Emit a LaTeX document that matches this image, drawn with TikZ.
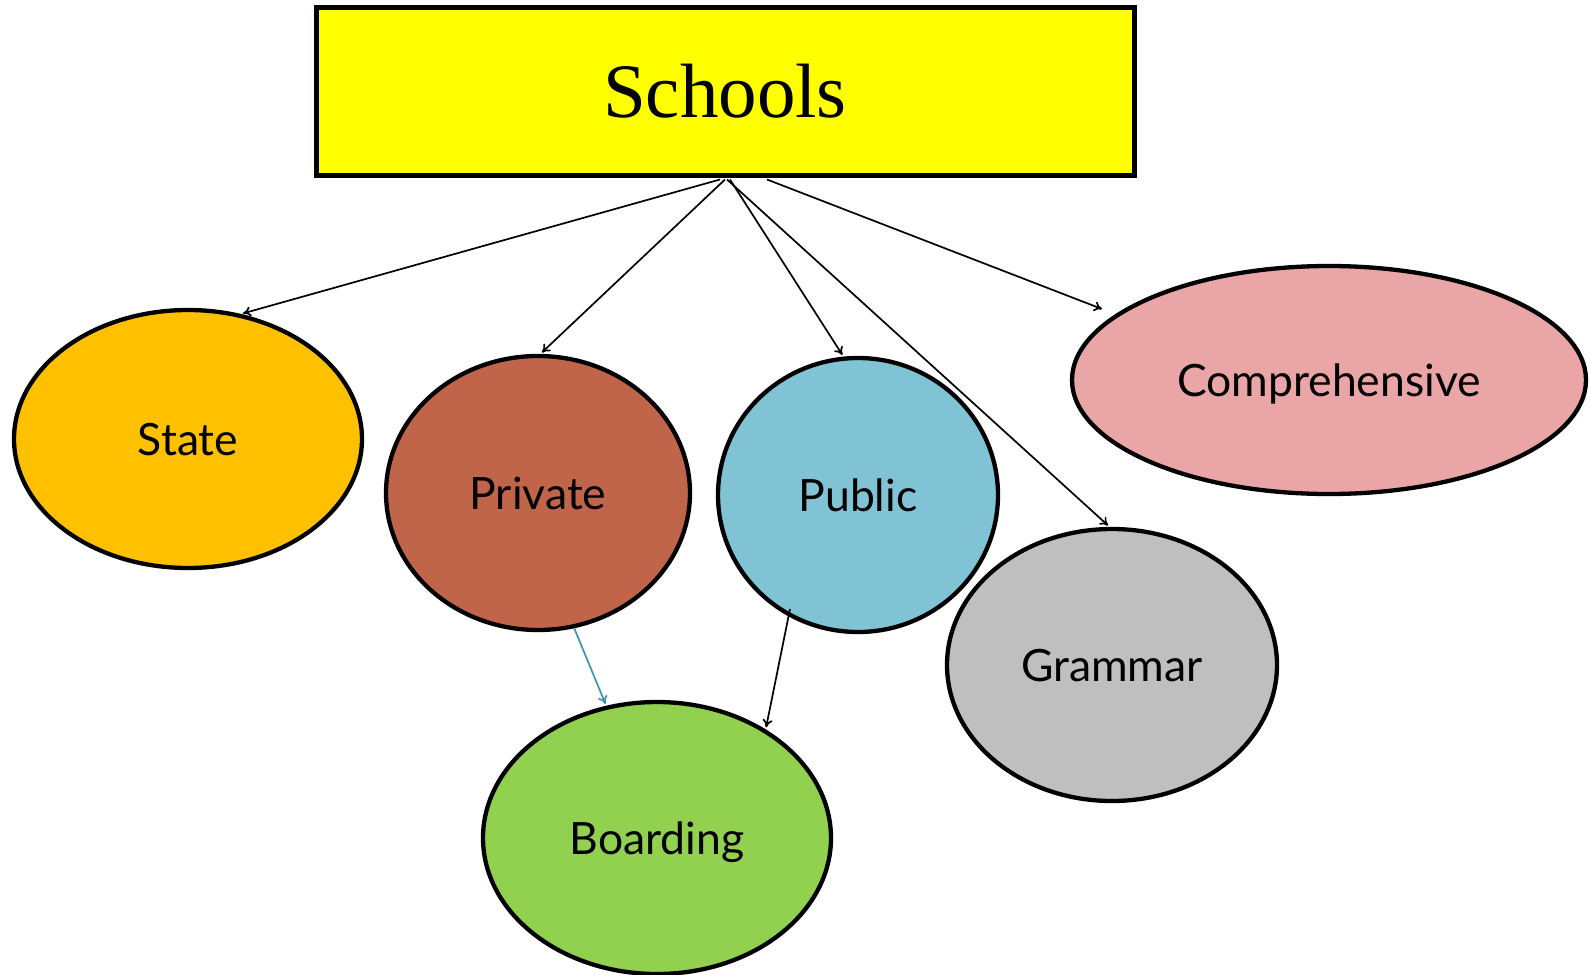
\documentclass[tikz,border=0pt]{standalone}
\usepackage{fontspec}
\setmainfont{Liberation Serif}
\newfontfamily\lblfont{Lato}
\usetikzlibrary{shapes.geometric,arrows.meta}
\definecolor{cYellow}{HTML}{FFFF00}
\definecolor{cState}{HTML}{FFC000}
\definecolor{cPrivate}{HTML}{C0654A}
\definecolor{cPublic}{HTML}{7FC3D4}
\definecolor{cComp}{HTML}{EAA6A6}
\definecolor{cGram}{HTML}{BFBFBF}
\definecolor{cBoard}{HTML}{92D050}
\definecolor{cTeal}{HTML}{3C95AE}
\newcommand{\lbl}[1]{\raisebox{-16pt}[0pt][0pt]{#1}}
\tikzset{
  blob/.style={ellipse, draw=black, line width=4.3pt, inner sep=0pt,
    font=\lblfont\fontsize{44.5}{52}\selectfont},
  link/.style={-{To[length=8pt,width=10pt]}, line width=1.7pt, shorten >=2pt},
}
\begin{document}
\begin{tikzpicture}[x=1pt,y=-1pt]
\useasboundingbox (0,0) rectangle (1589,974);
\node[draw=black, line width=5pt, fill=cYellow, minimum width=818pt, minimum height=167pt,
  inner sep=0pt, font=\fontsize{77}{90}\selectfont] (schools) at (725,91.5) {Schools};
\node[blob, fill=cState, minimum width=348pt, minimum height=258pt] (state) at (188,439) {\lbl{State}};
\node[blob, fill=cPrivate, minimum width=304pt, minimum height=274pt] (private) at (538,493) {\lbl{Private}};
\node[blob, fill=cPublic, minimum width=280pt, minimum height=274pt] (public) at (858,495) {\lbl{Public}};
\node[blob, fill=cComp, minimum width=514pt, minimum height=228pt] (comp) at (1329,380) {\lbl{Comprehensive}};
\node[blob, fill=cGram, minimum width=330pt, minimum height=272pt] (gram) at (1112,665) {\lbl{Grammar}};
\node[blob, fill=cBoard, minimum width=348pt, minimum height=272pt] (board) at (657,838) {\lbl{Boarding}};
\coordinate (pubstart) at ([shift={(-68,114)}]public.center);
\coordinate (compend) at ([shift={(-227,-71)}]comp.center);
\draw[link] ([xshift=-5pt,yshift=-2pt]schools.south) -- (state.67);
\draw[link] ([yshift=-2pt]schools.south) -- (private.89);
\draw[link] ([xshift=5pt,yshift=-2pt]schools.south) -- (public.96);
\draw[link] ([xshift=2pt,yshift=-2pt]schools.south) -- (gram.91);
\draw[link, shorten >=0pt] ([xshift=42pt,yshift=-2pt]schools.south) -- (compend);
\draw[link, draw=cTeal] (private.-75) -- (board.111);
\draw[link] (pubstart) -- (board.45.5);
\end{tikzpicture}
\end{document}
